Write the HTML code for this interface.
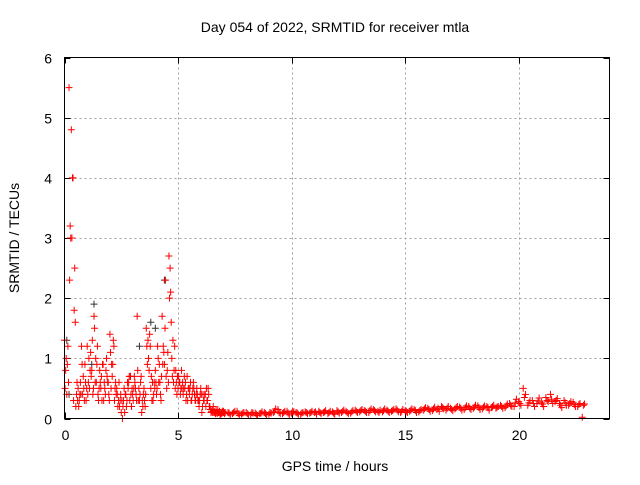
<!DOCTYPE html>
<html><head><meta charset="utf-8"><style>
body{margin:0;background:#fff}
svg text{font-family:"Liberation Sans",sans-serif;font-size:14px;fill:#000}
</style></head><body>
<svg id="chart" width="640" height="480" viewBox="0 0 640 480" xmlns="http://www.w3.org/2000/svg">
<rect width="640" height="480" fill="#fff"/>
<text x="335" y="32" text-anchor="middle">Day 054 of 2022, SRMTID for receiver mtla</text>
<text x="335" y="471" text-anchor="middle">GPS time / hours</text>
<text x="19" y="238" text-anchor="middle" transform="rotate(-90 19 238)">SRMTID / TECUs</text>
<g id="grid"></g>
<g id="ticks"></g>
<g id="marks"></g>
<rect x="64.5" y="57.5" width="545" height="361" fill="none" stroke="#000" stroke-width="1"/>
</svg>
<script>
const xTicks=[0,5,10,15,20];
const yTicks=[0,1,2,3,4,5,6];
const activeTimes=[0,0.1,0.2,0.3,0.4,0.5,0.6,0.7,0.8,0.9,1.0,1.1,1.2,1.3,1.4,1.5,1.6,1.7,1.8,1.9,2.0,2.1,2.2,2.3,2.4,2.5,2.6,2.7,2.8,2.9,3.0,3.1,3.2,3.3,3.4,3.5,3.6,3.7,3.8,3.9,4.0,4.1,4.2,4.3,4.4,4.5,4.6,4.7,4.8,4.9,5.0,5.1,5.2,5.3,5.4,5.5,5.6,5.7,5.8,5.9,6.0,6.1,6.2,6.3,6.4,6.5,6.6,6.7,6.8,6.9,7.0];
const activeA=[1.3,0.4,5.5,4.8,0.3,0.2,0.5,0.6,0.4,0.9,1.2,0.5,0.8,1.7,0.6,0.3,0.5,0.9,0.4,0.6,1.4,0.7,0.3,0.5,0.6,0.1,0.3,0.4,0.5,0.7,0.4,0.6,1.7,0.3,0.1,0.5,1.5,1.0,0.5,0.3,0.8,1.2,0.6,1.7,0.9,0.5,2.7,1.6,0.6,0.8,0.5,0.4,0.6,0.5,0.7,0.4,0.3,0.5,0.4,0.3,0.5,0.4,0.4,0.3,0.2,0.15,0.12,0.1,0.1,0.1,0.12];
const activeB=[0.8,1.2,3.2,4.0,2.5,0.6,0.3,1.2,0.5,0.3,0.6,1.1,0.4,0.6,1.2,0.8,0.3,0.6,1.0,0.4,0.5,1.3,0.6,0.2,0.3,0.0,0.1,0.3,0.7,0.2,0.5,0.4,0.3,0.6,0.2,0.2,0.9,1.4,0.3,0.6,0.4,0.6,0.3,1.2,2.3,1.1,2.5,0.7,1.2,0.4,0.6,0.8,0.5,0.3,0.5,0.6,0.5,0.3,0.4,0.3,0.1,0.3,0.5,0.4,0.1,0.2,0.08,0.15,0.06,0.12,0.08];
const activeC=[0.5,0.9,2.3,3.0,1.8,0.4,0.2,0.4,0.7,0.6,0.4,0.8,1.3,1.5,0.9,0.5,0.7,0.3,0.8,0.6,1.1,0.9,0.5,0.4,0.2,0.3,0.5,0.2,0.6,0.4,0.3,0.5,0.8,0.4,0.3,0.3,1.2,0.8,0.7,0.4,0.6,1.0,0.4,0.9,1.5,0.8,2.0,1.0,0.8,0.6,0.7,0.5,0.4,0.6,0.3,0.5,0.4,0.4,0.5,0.2,0.4,0.3,0.2,0.5,0.15,0.1,0.1,0.08,0.12,0.08,0.1];
const activeD=[1.0,0.6,3.0,4.0,1.6,0.3,0.4,0.9,0.3,0.5,1.0,0.7,0.5,1.0,0.4,0.6,0.9,0.5,0.7,0.3,0.9,1.2,0.4,0.3,0.4,0.2,0.4,0.6,0.3,0.5,0.7,0.3,0.5,0.7,0.4,0.4,1.3,1.2,0.6,0.5,0.5,0.9,0.7,1.1,0.7,0.6,2.1,1.3,0.5,0.7,0.6,0.5,0.7,0.4,0.5,0.3,0.6,0.3,0.3,0.4,0.2,0.4,0.3,0.2,0.12,0.1,0.14,0.1,0.08,0.1,0.1];
const quietTimes=[7.2,7.4,7.6,7.8,8.0,8.2,8.4,8.6,8.8,9.0,9.2,9.4,9.6,9.8,10.0,10.2,10.4,10.6,10.8,11.0,11.2,11.4,11.6,11.8,12.0,12.2,12.4,12.6,12.8,13.0,13.2,13.4,13.6,13.8,14.0,14.2,14.4,14.6,14.8,15.0,15.2,15.4,15.6,15.8,16.0,16.2,16.4,16.6,16.8,17.0,17.2,17.4,17.6,17.8,18.0,18.2,18.4,18.6,18.8,19.0,19.2,19.4,19.6,19.8,20.0,20.2,20.4,20.6,20.8,21.0,21.2,21.4,21.6,21.8,22.0,22.2,22.4,22.6,22.8];
const quietA=[0.1,0.08,0.12,0.07,0.1,0.06,0.09,0.08,0.1,0.07,0.1,0.15,0.08,0.12,0.09,0.1,0.07,0.11,0.09,0.1,0.12,0.1,0.08,0.11,0.13,0.1,0.12,0.09,0.14,0.11,0.13,0.1,0.15,0.12,0.11,0.14,0.12,0.16,0.1,0.13,0.12,0.15,0.11,0.14,0.17,0.13,0.15,0.2,0.14,0.17,0.16,0.19,0.15,0.2,0.17,0.21,0.16,0.2,0.18,0.17,0.22,0.18,0.25,0.2,0.28,0.5,0.22,0.3,0.25,0.27,0.35,0.4,0.28,0.25,0.3,0.22,0.27,0.2,0.02];
const quietB=[0.06,0.12,0.05,0.1,0.06,0.09,0.05,0.11,0.06,0.09,0.16,0.08,0.12,0.06,0.11,0.07,0.1,0.08,0.12,0.07,0.08,0.13,0.12,0.07,0.09,0.14,0.08,0.13,0.1,0.15,0.1,0.16,0.11,0.14,0.16,0.1,0.15,0.11,0.15,0.1,0.16,0.1,0.15,0.18,0.12,0.19,0.12,0.16,0.2,0.13,0.2,0.14,0.21,0.15,0.22,0.15,0.21,0.14,0.22,0.2,0.17,0.24,0.2,0.32,0.22,0.4,0.3,0.2,0.34,0.2,0.28,0.25,0.33,0.18,0.22,0.28,0.2,0.25,0.24];
const quietC=[0.09,0.1,0.08,0.09,0.08,0.1,0.07,0.09,0.08,0.1,0.12,0.1,0.1,0.09,0.12,0.09,0.09,0.1,0.1,0.11,0.1,0.11,0.1,0.09,0.11,0.12,0.1,0.11,0.12,0.13,0.12,0.13,0.13,0.1,0.13,0.12,0.13,0.14,0.12,0.12,0.14,0.13,0.13,0.16,0.15,0.16,0.17,0.18,0.17,0.15,0.18,0.17,0.18,0.17,0.19,0.18,0.19,0.18,0.2,0.19,0.2,0.21,0.22,0.26,0.25,0.35,0.26,0.25,0.29,0.24,0.3,0.32,0.3,0.22,0.26,0.25,0.23,0.23,0.22];
const darkTimes=[0.1,0.2,1.2,1.3,2.9,3.3,3.8,4.0,4.4];
const darkValues=[1.3,0.4,0.9,1.9,0.7,1.2,1.6,1.5,2.3];

const X0=64.5,X1=609.5,Y0=418.5,Y1=57.5,XMAX=24,YMAX=6;
const xs=v=>X0+(X1-X0)*v/XMAX;
const ys=v=>Y0-(Y0-Y1)*v/YMAX;
const NS='http://www.w3.org/2000/svg';
const grid=document.getElementById('grid'),ticks=document.getElementById('ticks'),marks=document.getElementById('marks');
function line(p,x1,y1,x2,y2,st,dash){const l=document.createElementNS(NS,'line');l.setAttribute('x1',x1);l.setAttribute('y1',y1);l.setAttribute('x2',x2);l.setAttribute('y2',y2);l.setAttribute('stroke',st);if(dash)l.setAttribute('stroke-dasharray',dash);p.appendChild(l);return l;}
function txt(p,x,y,s,anchor){const t=document.createElementNS(NS,'text');t.setAttribute('x',x);t.setAttribute('y',y);t.setAttribute('text-anchor',anchor);t.textContent=s;p.appendChild(t);return t;}
xTicks.forEach(v=>{const x=Math.round(xs(v))+0.5;
 if(v>0){const g=line(grid,x,Y1,x,Y0,'#a0a0a0','2,3');
 
 }
 line(ticks,x,Y0,x,Y0-6,'#000');line(ticks,x,Y1,x,Y1+6,'#000');
 const t=txt(ticks,x,440,String(v),'middle');
 
 });
yTicks.forEach(v=>{const y=Math.round(ys(v))+0.5;
 if(v>0&&v<YMAX){const g=line(grid,X0,y,X1,y,'#a0a0a0','2,3');
 
 }
 line(ticks,X0,y,X0+6,y,'#000');line(ticks,X1,y,X1-6,y,'#000');
 const t=txt(ticks,52,y+5,String(v),'end');
 
 });
function plus(x,y,c,name){const p=document.createElementNS(NS,'path');
 p.setAttribute('d',`M${x-3.5},${y}h7M${x},${y-3.5}v7`);p.setAttribute('stroke',c);p.setAttribute('fill','none');
 
 
 marks.appendChild(p);}
for(let i=0;i<darkTimes.length;i++)plus(xs(darkTimes[i]),ys(darkValues[i]),'#333','dark-point');
for(let i=0;i<activeTimes.length;i++){
 plus(xs(activeTimes[i]),ys(activeA[i]),'#f00','data-point');
 plus(xs(activeTimes[i]+0.05),ys(activeB[i]),'#f00','data-point');
 if(i<activeC.length)plus(xs(activeTimes[i]+0.025),ys(activeC[i]),'#f00','data-point');
 if(i<activeD.length)plus(xs(activeTimes[i]+0.075),ys(activeD[i]),'#f00','data-point');}
for(let i=0;i<quietTimes.length;i++){
 plus(xs(quietTimes[i]),ys(quietA[i]),'#f00','data-point');
 plus(xs(quietTimes[i]+0.1),ys(quietB[i]),'#f00','data-point');
 if(i<quietC.length)plus(xs(quietTimes[i]+0.05),ys(quietC[i]),'#f00','data-point');}
</script>
</body></html>
